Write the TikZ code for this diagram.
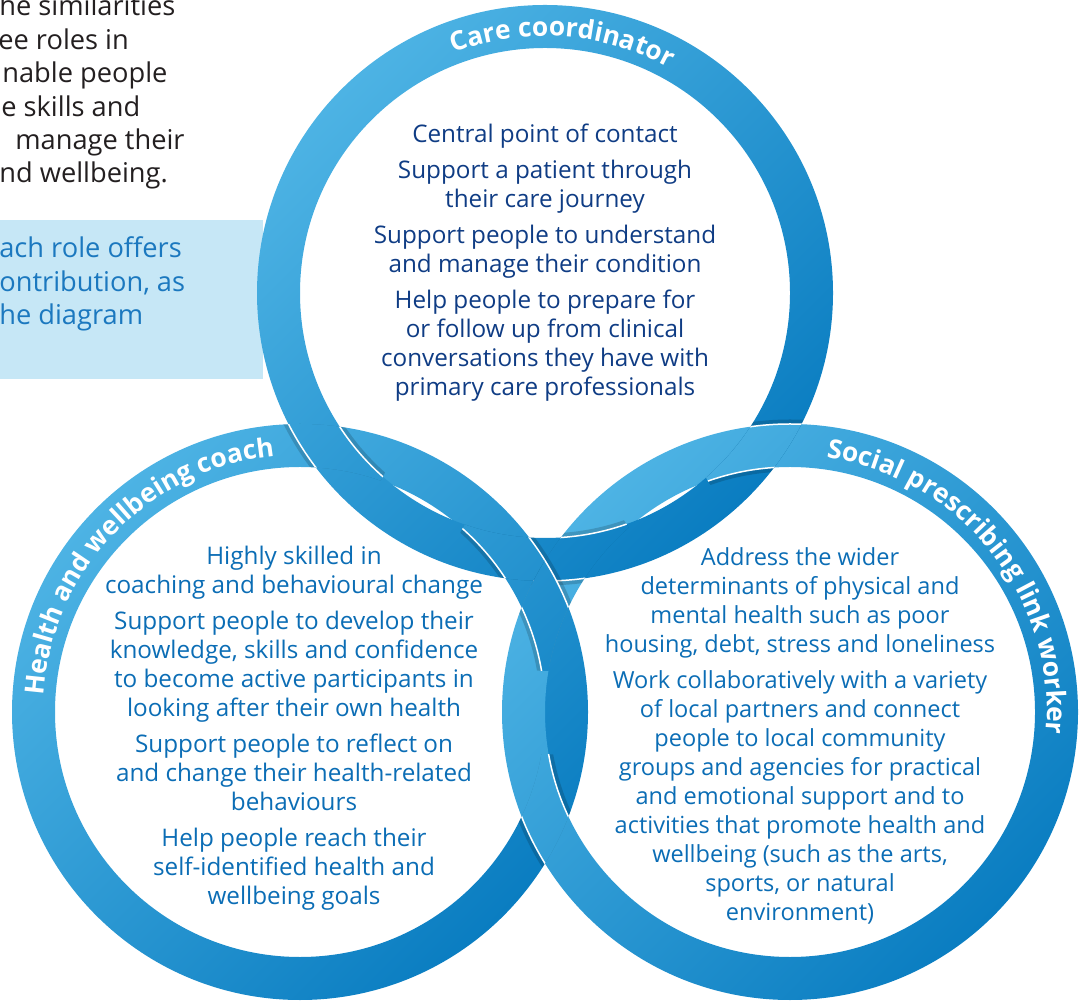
\documentclass[tikz,border=0pt]{standalone}
\usepackage{fontspec}
\setmainfont{Open Sans}
\usetikzlibrary{decorations.text}

\definecolor{ringlight}{HTML}{4DB3E4}
\definecolor{ringdark}{HTML}{0A7DC1}
\definecolor{boxblue}{HTML}{C6E7F6}
\definecolor{boxtext}{HTML}{1B78BF}
\definecolor{navytext}{HTML}{0F3C84}
\definecolor{roletext}{HTML}{0B6DB5}
\definecolor{introtext}{HTML}{231F20}

\tikzset{
  ringband/.style={even odd rule, top color=ringlight, bottom color=ringdark, shading angle=45},
  ringedge/.style={draw=white, line width=0.3mm},
  ringshadow/.style={draw=black, opacity=0.16, line width=10.4mm},
  roletxt/.style={align=center, inner sep=0pt, anchor=north, font=\fontsize{13.8}{16.5}\selectfont},
  introtxt/.style={anchor=base west, inner sep=0pt, font=\fontsize{15.5}{19}\selectfont},
  ringlabel/.style={decorate, decoration={text along path, text align=center, text={#1}}}
}
\newcommand\labelfont{\color{white}\bfseries\fontsize{15}{15}\selectfont}

\begin{document}
\begin{tikzpicture}[x=0.2mm, y=0.2mm]
    \useasboundingbox (0,0) rectangle (1090,1000);
    \clip (0,0) rectangle (1090,1000);

    % Intro text and box
    \fill[boxblue] (0,621) rectangle (263,780);
    \node[introtxt, text=introtext] (intro1) at (-1,984) {he similarities};
    \node[introtxt, text=introtext] (intro2) at (-2,950) {ee roles in};
    \node[introtxt, text=introtext] (intro3) at (2,917) {nable people};
    \node[introtxt, text=introtext] (intro4) at (1,883) {e skills and};
    \node[introtxt, text=introtext] (intro5) at (15,850) {manage their};
    \node[introtxt, text=introtext] (intro6) at (-1,817) {nd wellbeing.};
    \node[introtxt, text=boxtext] (box1) at (-1,742) {ach role offers};
    \node[introtxt, text=boxtext] (box2) at (-1,708) {ontribution, as};
    \node[introtxt, text=boxtext] (box3) at (-1,675) {he diagram};

    % Ring centres and crossings
    \coordinate (care) at (545,707);
    \coordinate (coach) at (300,288);
    \coordinate (social) at (790,288);
    \coordinate (x1) at (328,552);
    \coordinate (x2) at (517,442);
    \coordinate (x3) at (761,551);
    \coordinate (x4) at (574,443);
    \coordinate (x5) at (545,391);
    \coordinate (x6) at (545,184);

    % Rings
    \foreach \c in {coach,social,care}
        \shade[ringband] (\c) circle (288) (\c) circle (245);

    % Over-crossings: over ring / under ring / crossing
    \foreach \o/\u/\p in {care/coach/x1, coach/care/x2, social/care/x3,
                          care/social/x4, coach/social/x5, social/coach/x6} {
        \begin{scope}[even odd rule]
            \clip (\p) circle (62);
            \clip (\u) circle (288) (\u) circle (245);
            \draw[ringshadow] (\o) circle (266.5);
            \shade[ringband] (\o) circle (288) (\o) circle (245);
            \draw[ringedge] (\o) circle (288) (\o) circle (245);
        \end{scope}
    }

    % Ring labels
    \path[ringlabel={|\labelfont|Care coordinator}]
        (care) ++(130:257) arc[start angle=130, end angle=42, radius=257];
    \path[ringlabel={|\labelfont|Health and wellbeing coach}]
        (coach) ++(200:257) arc[start angle=200, end angle=72, radius=257];
    \path[ringlabel={|\labelfont|Social prescribing link worker}]
        (social) ++(102:257) arc[start angle=102, end angle=-25, radius=257];

    % Role texts
    \node[roletxt, text=navytext] (caretext) at (545,876) {
        Central point of contact\\[4pt]
        Support a patient through\\ their care journey\\[4pt]
        Support people to understand\\ and manage their condition\\[4pt]
        Help people to prepare for\\ or follow up from clinical\\
        conversations they have with\\ primary care professionals};
    \node[roletxt, text=roletext] (coachtext) at (294,454) {
        Highly skilled in\\ coaching and behavioural change\\[4pt]
        Support people to develop their\\ knowledge, skills and confidence\\
        to become active participants in\\ looking after their own health\\[4pt]
        Support people to reflect on\\ and change their health-related\\ behaviours\\[4pt]
        Help people reach their\\ self-identified health and\\ wellbeing goals};
    \node[roletxt, text=roletext, font=\fontsize{13.4}{16.5}\selectfont] (socialtext) at (800,453) {
        Address the wider\\ determinants of physical and\\ mental health such as poor\\
        housing, debt, stress and loneliness\\[4pt]
        Work collaboratively with a variety\\ of local partners and connect\\
        people to local community\\ groups and agencies for practical\\
        and emotional support and to\\ activities that promote health and\\
        wellbeing (such as the arts,\\ sports, or natural\\ environment)};
\end{tikzpicture}
\end{document}
